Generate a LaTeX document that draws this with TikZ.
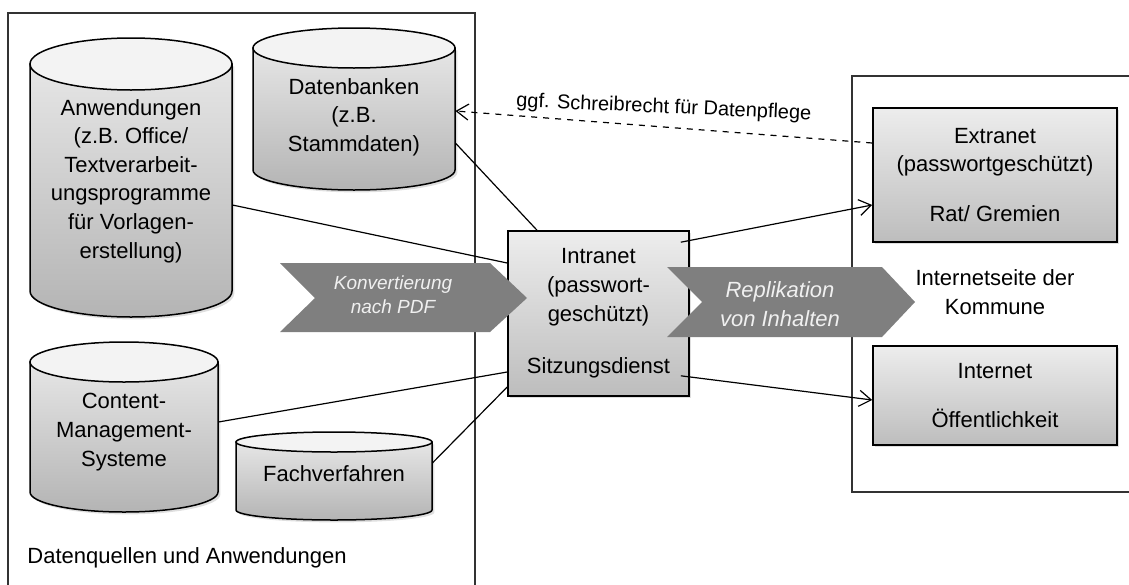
\documentclass[tikz,border=0pt]{standalone}
\usepackage{fontspec}
\setmainfont{Liberation Sans}
\usetikzlibrary{shadows,arrows.meta}

\definecolor{lidfill}{HTML}{F3F3F3}
\definecolor{bodytop}{HTML}{E6E6E6}
\definecolor{bodybot}{HTML}{B4B4B4}
\definecolor{boxtop}{HTML}{EDEDED}
\definecolor{boxbot}{HTML}{BDBDBD}
\definecolor{chevgray}{HTML}{7F7F7F}

\tikzset{
  frame/.style={draw=black!80, line width=0.8pt},
  cylbody/.style={draw=black, line width=0.75pt, top color=bodytop, bottom color=bodybot,
    drop shadow={shadow xshift=1.2pt, shadow yshift=-1.2pt, opacity=0.25}},
  cyllid/.style={draw=black, line width=0.75pt, fill=lidfill},
  cyltext/.style={align=center, inner sep=0pt},
  infobox/.style={draw=black, line width=0.8pt, top color=boxtop, bottom color=boxbot, align=center,
    drop shadow={shadow xshift=1.2pt, shadow yshift=-1.2pt, opacity=0.25}},
  link/.style={line width=0.6pt},
  tip/.style={-{Straight Barb[length=6pt,width=8pt]}},
  chevron/.style={fill=chevgray},
  chevtext/.style={text=white!94!black, align=center, font=\itshape\fontsize{11pt}{14.3pt}\selectfont},
}

\begin{document}
\begin{tikzpicture}[x=0.5pt,y=-0.5pt, font=\fontsize{11pt}{14.3pt}\selectfont]
	\useasboundingbox (0,0) rectangle (1129,584);
	\clip (0,0) rectangle (1129,584);

	% frames
	\draw[frame] (8,13) rectangle (475,600);
	\draw[frame] (852,76) rectangle (1140,492);

	% cylinders
	\draw[cylbody] (30,64) -- (30,291) arc[start angle=180, end angle=0, x radius=101, y radius=26] -- (232,64) -- cycle;
	\draw[cyllid] (131,64) ellipse[x radius=101, y radius=26];
	\draw[cylbody] (253,48) -- (253,170) arc[start angle=180, end angle=0, x radius=101, y radius=20] -- (455,48) -- cycle;
	\draw[cyllid] (354,48) ellipse[x radius=101, y radius=20];
	\draw[cylbody] (30,362) -- (30,492) arc[start angle=180, end angle=0, x radius=94, y radius=20] -- (218,362) -- cycle;
	\draw[cyllid] (124,362) ellipse[x radius=94, y radius=20];
	\draw[cylbody] (236,442) -- (236,510) arc[start angle=180, end angle=0, x radius=98, y radius=10] -- (432,442) -- cycle;
	\draw[cyllid] (334,442) ellipse[x radius=98, y radius=10];

	\node[cyltext, minimum width=101pt] (anw) at (131,181) {Anwendungen\\(z.B. Office/\\Textverarbeit-\\ungsprogramme\\für Vorlagen-\\erstellung)};
	\node[cyltext, minimum width=101pt] (dbk) at (354,117) {Datenbanken\\(z.B.\\Stammdaten)};
	\node[cyltext, minimum width=94pt] (cms) at (124,432) {Content-\\Management-\\Systeme};
	\node[cyltext, minimum width=98pt] (fach) at (334,474) {Fachverfahren};
	\node[anchor=west, inner sep=0pt] (quellen) at (27,558) {Datenquellen und Anwendungen};

	% boxes
	\node[infobox, minimum width=90.5pt, minimum height=82.5pt] (intra) at (598.5,313.5) {Intranet\\(passwort-\\geschützt)\\[12pt]Sitzungsdienst};
	\node[infobox, minimum width=122pt, minimum height=67pt] (extra) at (995,175) {Extranet\\(passwortgeschützt)\\[10.5pt]Rat/ Gremien};
	\node[infobox, minimum width=122pt, minimum height=49.5pt] (inet) at (995,395.5) {Internet\\[10.5pt]Öffentlichkeit};
	\node[align=center] (kommune) at (995,292) {Internetseite der\\Kommune};

	% links
	\draw[link] ([yshift=-12pt]anw.east) -- ([yshift=25.25pt]intra.west);
	\draw[link] ([yshift=-13pt]dbk.east) -- ([xshift=-30.75pt]intra.north);
	\draw[link] ([yshift=5pt]cms.east) -- ([yshift=-29.25pt]intra.west);
	\draw[link] ([yshift=5.5pt]fach.east) -- ([yshift=-36.75pt]intra.west);
	\draw[link,tip] ([xshift=-4.5pt,yshift=-6pt]intra.north east) -- ([yshift=-15pt]extra.west);
	\draw[link,tip] ([xshift=-4.5pt,yshift=10.5pt]intra.south east) -- ([yshift=-2.25pt]inet.west);
	\draw[link,tip,dashed] ([yshift=16pt]extra.west) -- node[pos=0.5, yshift=9.5pt, rotate=-2.5, font=\fontsize{10pt}{12pt}\selectfont] (recht) {ggf. Schreibrecht für Datenpflege} ([yshift=3pt]dbk.east);

	% chevrons
	\fill[chevron] (280,263) -- (490,263) -- (527,298) -- (490,332) -- (280,332) -- (315,298) -- cycle;
	\node[chevtext, font=\itshape\fontsize{9.5pt}{12pt}\selectfont] (konv) at (393,295) {Konvertierung\\nach PDF};
	\fill[chevron] (667,267) -- (882,267) -- (915,302) -- (882,337) -- (667,337) -- (702,302) -- cycle;
	\node[chevtext] (repl) at (780,304) {Replikation\\von Inhalten};
\end{tikzpicture}
\end{document}
